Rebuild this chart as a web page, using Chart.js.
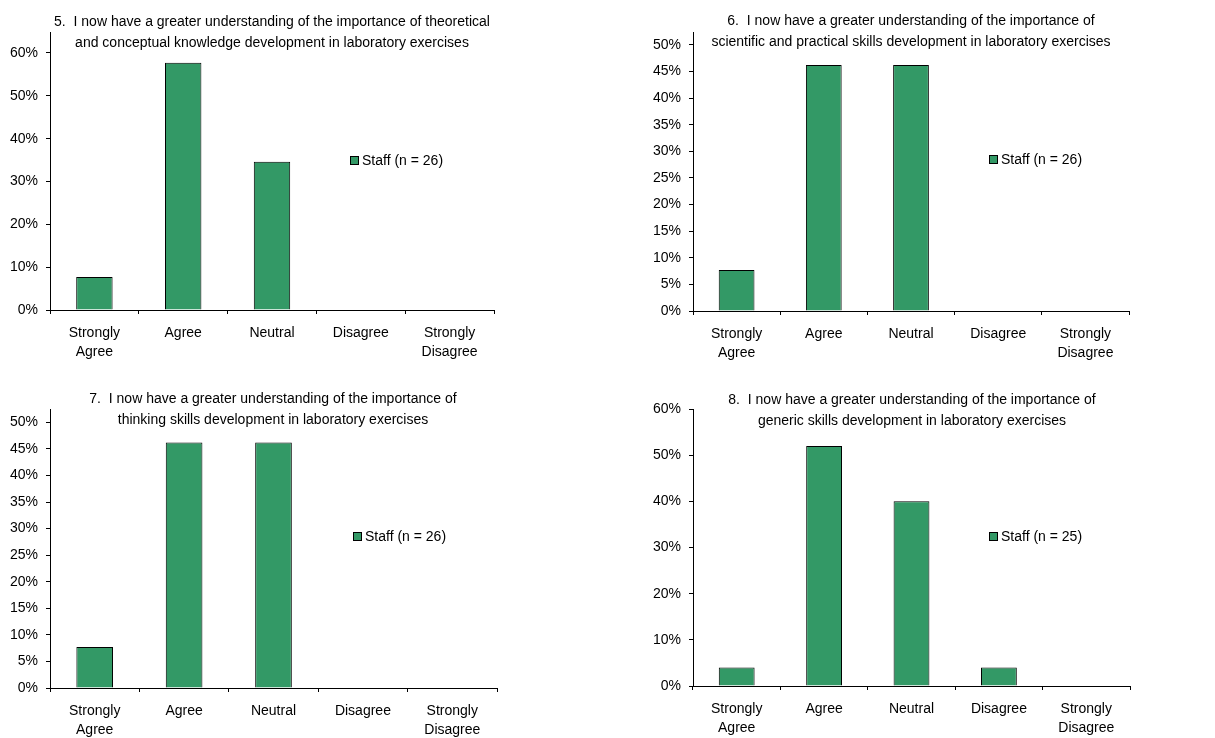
<!DOCTYPE html>
<html>
<head>
<meta charset="utf-8">
<script src="https://cdn.jsdelivr.net/npm/chart.js@4"></script>
<style>
  html, body { margin: 0; padding: 0; background: #fff; }
  body { width: 1215px; height: 738px; position: relative; overflow: hidden; }
  .box { position: absolute; }
</style>
</head>
<body>
<div class="box" style="left:0;top:0;width:607px;height:369px"><canvas id="c5" width="607" height="369"></canvas></div>
<div class="box" style="left:607px;top:0;width:608px;height:369px"><canvas id="c6" width="608" height="369"></canvas></div>
<div class="box" style="left:0;top:369px;width:607px;height:369px"><canvas id="c7" width="607" height="369"></canvas></div>
<div class="box" style="left:607px;top:369px;width:608px;height:369px"><canvas id="c8" width="608" height="369"></canvas></div>
<script>
// ---- data ----
const categories = [['Strongly', 'Agree'], 'Agree', 'Neutral', 'Disagree', ['Strongly', 'Disagree']];

const q5Title = ['5.  I now have a greater understanding of the importance of theoretical',
                 'and conceptual knowledge development in laboratory exercises'];
const q5Label = 'Staff (n = 26)';
const q5Values = [7.7, 57.7, 34.6, 0, 0];
const q5Ticks = [0, 10, 20, 30, 40, 50, 60];

const q6Title = ['6.  I now have a greater understanding of the importance of',
                 'scientific and practical skills development in laboratory exercises'];
const q6Label = 'Staff (n = 26)';
const q6Values = [7.7, 46.2, 46.2, 0, 0];
const q6Ticks = [0, 5, 10, 15, 20, 25, 30, 35, 40, 45, 50];

const q7Title = ['7.  I now have a greater understanding of the importance of',
                 'thinking skills development in laboratory exercises'];
const q7Label = 'Staff (n = 26)';
const q7Values = [7.7, 46.2, 46.2, 0, 0];
const q7Ticks = [0, 5, 10, 15, 20, 25, 30, 35, 40, 45, 50];

const q8Title = ['8.  I now have a greater understanding of the importance of',
                 'generic skills development in laboratory exercises'];
const q8Label = 'Staff (n = 25)';
const q8Values = [4, 52, 40, 4, 0];
const q8Ticks = [0, 10, 20, 30, 40, 50, 60];

// ---- styling ----
const FONT = '"Liberation Sans", Arial, sans-serif';
const FSIZE = 14;
const BAR = '#339966';
const INK = '#000000';

Chart.defaults.font.family = FONT;
Chart.defaults.font.size = FSIZE;
Chart.defaults.color = '#000';

const overlay = {
  id: 'overlay',
  afterDraw(chart, args, o) {
    const ctx = chart.ctx;
    ctx.save();
    ctx.font = FSIZE + 'px ' + FONT;
    ctx.fillStyle = '#000';
    ctx.textAlign = 'center';
    ctx.textBaseline = 'middle';
    o.title.forEach((line, i) => ctx.fillText(line, o.titleX, o.titleY + i * o.titleGap));
    // legend
    const ds = chart.data.datasets[0];
    const s = 9;
    ctx.fillStyle = ds.backgroundColor;
    ctx.fillRect(o.legX, o.legY - 4, s, s);
    ctx.strokeStyle = INK;
    ctx.lineWidth = 1;
    ctx.strokeRect(o.legX + 0.5, o.legY - 4 + 0.5, s - 1, s - 1);
    ctx.fillStyle = '#000';
    ctx.textAlign = 'left';
    ctx.fillText(ds.label, o.legX + s + 3, o.legY + 1);
    ctx.restore();
  }
};

function makeChart(id, cfg) {
  new Chart(document.getElementById(id), {
    type: 'bar',
    data: {
      labels: categories,
      datasets: [{
        label: cfg.label,
        data: cfg.values,
        backgroundColor: BAR,
        borderColor: INK,
        borderWidth: 1,
        borderSkipped: 'bottom',
        barPercentage: 0.41,
        categoryPercentage: 1.0
      }]
    },
    options: {
      responsive: false,
      animation: false,
      devicePixelRatio: 1,
      layout: { padding: { top: cfg.top, right: cfg.right, left: 0, bottom: 0 } },
      plugins: {
        legend: { display: false },
        title: { display: false },
        tooltip: { enabled: false },
        overlay: cfg.overlay
      },
      scales: {
        x: {
          offset: true,
          grid: { offset: true, drawOnChartArea: false, color: INK, tickLength: 4, lineWidth: 1 },
          border: { display: true, color: INK, width: 1 },
          ticks: { padding: 9, maxRotation: 0, autoSkip: false, color: '#000', font: { size: FSIZE, lineHeight: 1.4 } },
          afterFit(scale) { scale.height = cfg.xh; }
        },
        y: {
          min: 0,
          max: cfg.max,
          grid: { drawOnChartArea: false, color: INK, tickLength: 4, lineWidth: 1 },
          border: { display: true, color: INK, width: 1 },
          afterBuildTicks(scale) { scale.ticks = cfg.ticks.map(v => ({ value: v })); },
          ticks: { padding: 8, color: '#000', font: { size: FSIZE }, callback: v => v + '%' },
          afterFit(scale) { scale.width = cfg.left; }
        }
      }
    },
    plugins: [overlay]
  });
}

makeChart('c5', { label: q5Label, values: q5Values, ticks: q5Ticks, max: 64.9,
  top: 32, right: 113, left: 50, xh: 59,
  overlay: { title: q5Title, titleX: 272, titleY: 22, titleGap: 21, legX: 350, legY: 160 } });

makeChart('c6', { label: q6Label, values: q6Values, ticks: q6Ticks, max: 52.4,
  top: 32, right: 86, left: 86, xh: 58,
  overlay: { title: q6Title, titleX: 304, titleY: 21, titleGap: 21, legX: 382, legY: 159 } });

makeChart('c7', { label: q7Label, values: q7Values, ticks: q7Ticks, max: 52.5,
  top: 40, right: 110, left: 50, xh: 50,
  overlay: { title: q7Title, titleX: 273, titleY: 30, titleGap: 21, legX: 353, legY: 167 } });

makeChart('c8', { label: q8Label, values: q8Values, ticks: q8Ticks, max: 60,
  top: 40, right: 85, left: 86, xh: 52,
  overlay: { title: q8Title, titleX: 305, titleY: 31, titleGap: 21, legX: 382, legY: 167 } });
</script>
</body>
</html>
